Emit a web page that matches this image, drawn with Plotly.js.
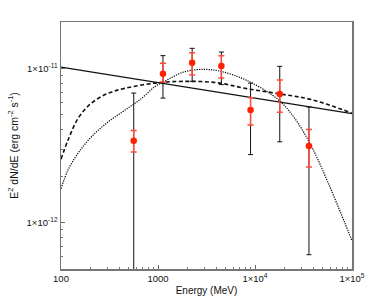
<!DOCTYPE html>
<html>
<head>
<meta charset="utf-8">
<script src="https://cdn.plot.ly/plotly-3.0.1.min.js"></script>
<style>html,body{margin:0;padding:0;background:#fff;}#chart{width:374px;height:306px;}</style>
</head>
<body>
<div id="chart"></div>
<script>
// Data points (energy in MeV, E^2 dN/dE in erg cm^-2 s^-1)
const energy = [562, 1125, 2250, 4500, 9000, 18000, 36000];
const flux = [3.40e-12, 9.24e-12, 1.089e-11, 1.035e-11, 5.37e-12, 6.82e-12, 3.14e-12];
// outer (black) error limits
const outerLo = [1e-13, 6.42e-12, 8.24e-12, 7.85e-12, 2.76e-12, 3.34e-12, 6.19e-13];
const outerHi = [6.92e-12, 1.21e-11, 1.35e-11, 1.277e-11, 8.03e-12, 1.031e-11, 5.62e-12];
// inner (red) error limits
const innerLo = [2.87e-12, 8.15e-12, 9.05e-12, 8.65e-12, 4.30e-12, 5.19e-12, 2.29e-12];
const innerHi = [3.95e-12, 1.08e-11, 1.265e-11, 1.21e-11, 6.46e-12, 8.40e-12, 4.01e-12];

// Model curves
const plE = [100, 100000];
const plF = [1.02e-11, 5.09e-12];

const dashE = [100, 118, 150, 205, 305, 454, 925, 1823, 4027, 8204, 17380, 38440, 99300];
const dashF = [2.58e-12, 3.42e-12, 4.74e-12, 5.94e-12, 6.89e-12, 7.42e-12, 8.03e-12, 8.24e-12, 8.08e-12, 7.39e-12, 6.86e-12, 6.27e-12, 5.14e-12];

const dotE = [100, 118, 150, 205, 305, 454, 673, 925, 1134, 1823, 2822, 4355, 8204, 17380, 25820, 38440, 57020, 84700, 99300];
const dotF = [1.66e-12, 2.19e-12, 2.82e-12, 3.59e-12, 4.49e-12, 5.35e-12, 6.37e-12, 7.60e-12, 8.15e-12, 9.46e-12, 9.85e-12, 9.60e-12, 8.36e-12, 6.27e-12, 4.72e-12, 3.10e-12, 1.80e-12, 9.89e-13, 7.71e-13];

// Axis ticks
const xTickVals = [100, 1000, 10000, 100000];
const xTickText = ['100', '1000', '1×10<sup>4</sup>', '1×10<sup>5</sup>'];
const yTickVals = [1e-12, 1e-11];
const yTickText = ['1×10<sup>-12</sup>', '1×10<sup>-11</sup>'];
const xMinor = [200,300,400,500,600,700,800,900,2000,3000,4000,5000,6000,7000,8000,9000,20000,30000,40000,50000,60000,70000,80000,90000];
const yMinor = [6e-13,7e-13,8e-13,9e-13,2e-12,3e-12,4e-12,5e-12,6e-12,7e-12,8e-12,9e-12];

const traces = [
  {x: plE, y: plF, mode: 'lines', line: {color: '#111', width: 1.2}, hoverinfo: 'skip'},
  {x: dashE, y: dashF, mode: 'lines', line: {color: '#111', width: 1.6, dash: '4px,2.5px', shape: 'spline', smoothing: 1}, hoverinfo: 'skip'},
  {x: dotE, y: dotF, mode: 'lines', line: {color: '#000', width: 1.2, dash: '1.2px,1.2px', shape: 'spline', smoothing: 1}, hoverinfo: 'skip'},
  {x: energy, y: flux, mode: 'markers', marker: {size: 1, color: 'rgba(0,0,0,0)'},
   error_y: {type: 'data', symmetric: false,
     array: outerHi.map((v, i) => v - flux[i]),
     arrayminus: outerLo.map((v, i) => flux[i] - v),
     color: '#111', thickness: 1, width: 2.5}},
  {x: energy, y: flux, mode: 'markers', marker: {size: 6.5, color: '#ff2200'},
   error_y: {type: 'data', symmetric: false,
     array: innerHi.map((v, i) => v - flux[i]),
     arrayminus: innerLo.map((v, i) => flux[i] - v),
     color: '#ff4a3a', thickness: 1.5, width: 3}}
];

const fontFam = 'Liberation Sans, Arial, Helvetica, sans-serif';
const layout = {
  width: 374, height: 306,
  margin: {l: 61, r: 22, t: 22, b: 37},
  paper_bgcolor: '#fff', plot_bgcolor: '#fff',
  showlegend: false,
  font: {family: fontFam, size: 9, color: '#111'},
  xaxis: {
    type: 'log', range: [2, 5],
    tickmode: 'array', tickvals: xTickVals, ticktext: xTickText,
    ticks: 'inside', ticklen: 4, tickcolor: '#666', tickwidth: 1,
    minor: {tickmode: 'array', tickvals: xMinor, ticks: 'inside', ticklen: 2, tickcolor: '#777', showgrid: false},
    showgrid: false, zeroline: false,
    showline: true, linecolor: '#777', linewidth: 1.5, mirror: true,
    tickfont: {size: 9.5, family: fontFam},
    title: {text: 'Energy (MeV)', font: {size: 10, family: fontFam}, standoff: 4}
  },
  yaxis: {
    type: 'log', range: [Math.log10(5e-13), Math.log10(2e-11)],
    tickmode: 'array', tickvals: yTickVals, ticktext: yTickText,
    ticks: 'inside', ticklen: 4, tickcolor: '#666', tickwidth: 1,
    minor: {tickmode: 'array', tickvals: yMinor, ticks: 'inside', ticklen: 2, tickcolor: '#777', showgrid: false},
    showgrid: false, zeroline: false,
    showline: true, linecolor: '#777', linewidth: 1.5, mirror: true,
    tickfont: {size: 9.5, family: fontFam},
    title: {text: 'E<sup>2</sup> dN/dE (erg cm<sup>-2</sup> s<sup>-1</sup>)', font: {size: 10.5, family: fontFam}, standoff: 6}
  }
};

Plotly.newPlot('chart', traces, layout, {displayModeBar: false, staticPlot: true});
</script>
</body>
</html>
